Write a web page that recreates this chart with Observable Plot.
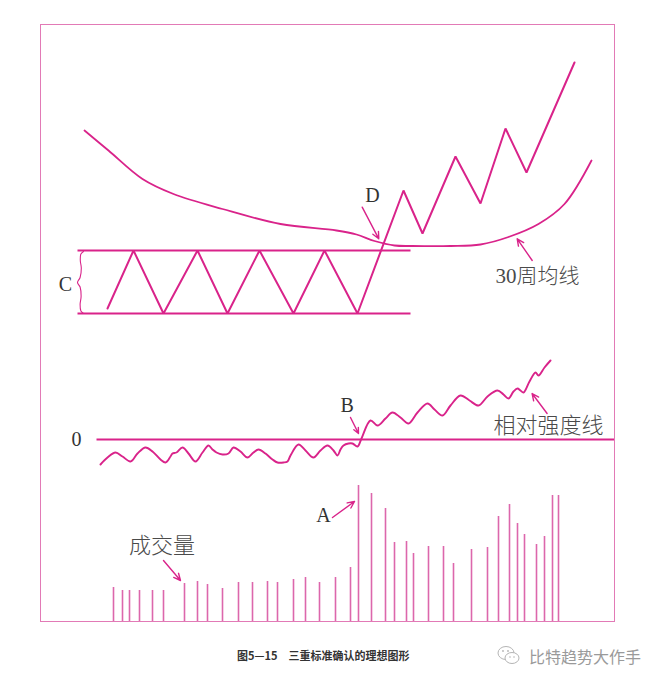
<!DOCTYPE html>
<html>
<head>
<meta charset="utf-8">
<script src="https://cdn.jsdelivr.net/npm/d3@7"></script>
<script src="https://cdn.jsdelivr.net/npm/@observablehq/plot@0.6"></script>
<style>
  html, body { margin: 0; padding: 0; background: #fff; }
  #root { position: relative; width: 661px; height: 683px; background: #fff; overflow: hidden; }
  .panel { position: absolute; left: 0; }
  #frame { position: absolute; left: 40px; top: 24px; width: 575px; height: 598px; box-sizing: border-box; border: 1.5px solid #e27ab6; pointer-events: none; }
  #caption { position: absolute; left: 237px; top: 647px; font: bold 11px "Noto Sans CJK SC", sans-serif; color: #333; white-space: pre; }
  #wm { position: absolute; left: 497px; top: 644px; display: flex; align-items: center; }
  #wm span { font: 16px "Noto Sans CJK SC", sans-serif; color: #9a9a9a; margin-left: 8px; white-space: nowrap; }
</style>
</head>
<body>
<div id="root">
  <div id="p1" class="panel" style="top:0px"></div>
  <div id="p2" class="panel" style="top:340px"></div>
  <div id="p3" class="panel" style="top:480px"></div>
  <div id="frame"></div>
  <div id="caption">图5—15　三重标准确认的理想图形</div>
  <div id="wm">
    <svg width="24" height="22" viewBox="0 0 24 22">
      <ellipse cx="9" cy="8" rx="8" ry="6.5" fill="none" stroke="#b5b5b5" stroke-width="1"/>
      <ellipse cx="15" cy="13" rx="7" ry="5.5" fill="#fff" stroke="#b5b5b5" stroke-width="1"/>
      <circle cx="6" cy="6" r="0.9" fill="#b5b5b5"/><circle cx="11" cy="6" r="0.9" fill="#b5b5b5"/>
      <circle cx="13" cy="12" r="0.8" fill="#b5b5b5"/><circle cx="17" cy="12" r="0.8" fill="#b5b5b5"/>
    </svg>
    <span>比特趋势大作手</span>
  </div>
</div>
<script>
// ---------------- data (time in trading days, values in arbitrary units) ----------------
// Price panel
const rangeStart = 18.5, rangeEnd = 185;
const rangeTop = 18, rangeBottom = 5.4;
const priceX = [33.5, 46.5, 61.5, 78.5, 93.5, 109.5, 126.5, 142, 158.5, 181.5, 191, 207.5, 220, 232.5, 243, 267];
const priceY = [6.4, 18, 5.4, 18, 5.4, 18, 5.4, 18, 5.4, 30, 21.4, 36.8, 27.4, 42.4, 33.6, 55.6];
const maX = [22, 34, 51, 66.5, 91, 120, 148, 158, 167, 177, 186, 205, 220, 234, 249, 262, 275.5];
const maY = [42, 38, 32.3, 29.3, 26.3, 23.3, 22, 21.2, 19.9, 19, 18.9, 18.9, 19.2, 20.7, 23.3, 27.3, 36];

// Relative strength panel
const rsX = [30, 33.5, 37.5, 41, 45, 48.5, 52.5, 56, 60, 62.5, 65, 66, 68, 71, 74, 77.5, 81, 84, 86, 88, 91, 94,
  96.5, 100, 103.5, 106.5, 109, 112.5, 116, 118.5, 121.5, 123.5, 125, 129, 132.5, 136.5, 140, 143.5, 146.5, 148.5,
  150, 151.5, 154, 156, 158.5, 160.5, 165, 168.5, 172.5, 176, 180, 184, 188.5, 193.5, 197, 201, 205, 210, 214.5,
  219, 223.5, 228.5, 231.5, 234, 236.5, 238.5, 240, 241.5, 244.5, 247.5, 249, 252, 255];
const rsY = [-6.25, -4.5, -3.25, -4.25, -5.5, -3.5, -2, -3, -5, -5.75, -4.25, -3.5, -3.25, -2, -3.5, -5.5, -3.25, -1.5, -2.5, -3.25, -3.75, -3.5,
  -2, -3, -4.5, -3.25, -2.5, -3.5, -5, -5.75, -5.75, -5.5, -4, -1.25, -2.75, -4.5, -2.75, -1.5, -2.75, -4,
  -2.5, -1.5, -1, -1, -1.75, 0.25, 4.75, 3.5, 5.25, 6.75, 5.5, 4, 6.75, 9, 7.5, 6, 8.5, 11, 9.75,
  8.5, 10.75, 12.25, 11.25, 10.25, 12, 12.75, 12.25, 11.75, 14.5, 16.75, 16, 18, 19.75];
const rsZeroStart = 28, rsZeroEnd = 287;

// Volume panel
const volX = [36.5, 41, 44.5, 49.5, 56, 61.5, 72, 78.5, 83.5, 91, 99, 106, 113.5, 118.5, 126.5, 132.5, 139.5, 147.5, 155,
  159, 165.5, 172.5, 177, 183, 186.5, 194, 201.5, 206.5, 215.5, 223.5, 229, 234.5, 238.5, 242, 248, 252, 256, 259];
const volY = [17, 15.5, 15.5, 15.5, 15.5, 15.5, 19, 20, 18.5, 16.5, 19.5, 19.5, 20, 19.5, 21, 22, 19.5, 22, 27,
  68, 64, 56.5, 39.5, 40, 34, 37.5, 37.5, 29, 36, 37, 52.5, 58.5, 49, 43.5, 38.5, 42.5, 63, 63];

// Labels
const labelC = "C", labelD = "D", labelB = "B", labelA = "A", labelZero = "0";
const labelMA = "30周均线", labelRS = "相对强度线", labelVol = "成交量";

// ---------------- rendering ----------------
const PINK = "#d9238a";
const BAR = "#dc67ac";
const TEXT = "#333";
const CJKTEXT = "#4a4a4a";
const SERIF = "Liberation Serif, serif";
const CJK = "Liberation Serif, Noto Sans CJK SC, sans-serif";
const X = {domain: [0, 287], axis: null};
const base = {width: 661, marginLeft: 40, marginRight: 47, marginTop: 0, marginBottom: 0,
  style: {background: "transparent", overflow: "visible"}};
const zip = (xs, ys) => xs.map((x, i) => ({x, y: ys[i]}));
const arrowOpts = {x1: "x1", y1: "y1", x2: "x2", y2: "y2", stroke: PINK, strokeWidth: 1.4, headLength: 8, headAngle: 50};

// Price panel
const brace = [{x:21.5,y:17.8},{x:20.2,y:17.3},{x:19.9,y:16},{x:20.4,y:14.5},{x:19.8,y:12.6},{x:18.5,y:11.6},
  {x:19.8,y:10.7},{x:20.3,y:8.8},{x:19.8,y:7.2},{x:20.2,y:5.9},{x:21.5,y:5.4}];
const p1 = Plot.plot({...base, height: 340,
  x: X, y: {domain: [0, 68], axis: null},
  marks: [
    Plot.link([{y: rangeTop}, {y: rangeBottom}], {x1: () => rangeStart, x2: () => rangeEnd, y1: "y", y2: "y", stroke: PINK, strokeWidth: 2}),
    Plot.line(zip(maX, maY), {x: "x", y: "y", curve: "catmull-rom", stroke: PINK, strokeWidth: 1.8}),
    Plot.line(zip(priceX, priceY), {x: "x", y: "y", stroke: PINK, strokeWidth: 2, strokeLinejoin: "miter"}),
    Plot.line(brace, {x: "x", y: "y", curve: "catmull-rom", stroke: PINK, strokeWidth: 1.1}),
    Plot.text([labelC], {x: () => 12.5, y: () => 11.2, text: d => d, fontFamily: SERIF, fontSize: 20, fill: TEXT}),
    Plot.text([labelD], {x: () => 166, y: () => 29, text: d => d, fontFamily: SERIF, fontSize: 20, fill: TEXT}),
    Plot.text([labelMA], {x: () => 248.5, y: () => 12.8, text: d => d, fontFamily: CJK, fontSize: 21, fontWeight: 300, fill: CJKTEXT}),
    Plot.arrow([{x1: 160.85, y1: 26.66, x2: 169.15, y2: 20.34}, {x1: 245.85, y1: 16, x2: 238.35, y2: 20.34}], arrowOpts)
  ]
});
document.getElementById("p1").append(p1);

// RS panel
const p2 = Plot.plot({...base, height: 140,
  x: X, y: {domain: [-10.25, 24.75], axis: null},
  marks: [
    Plot.link([{y: 0}], {x1: () => rsZeroStart, x2: () => rsZeroEnd, y1: "y", y2: "y", stroke: PINK, strokeWidth: 2}),
    Plot.line(zip(rsX, rsY), {x: "x", y: "y", curve: "catmull-rom", stroke: PINK, strokeWidth: 1.9}),
    Plot.text([labelZero], {x: () => 18, y: () => 0, text: d => d, fontFamily: SERIF, fontSize: 20, fill: TEXT}),
    Plot.text([labelB], {x: () => 153.3, y: () => 8.5, text: d => d, fontFamily: SERIF, fontSize: 20, fill: TEXT}),
    Plot.text([labelRS], {x: () => 254, y: () => 3.4, text: d => d, fontFamily: CJK, fontSize: 22, fontWeight: 300, fill: CJKTEXT}),
    Plot.arrow([{x1: 155, y1: 5.5, x2: 159, y2: 1.5}, {x1: 253.3, y1: 6.5, x2: 245.8, y2: 11.5}], arrowOpts)
  ]
});
document.getElementById("p2").append(p2);

// Volume panel
const p3 = Plot.plot({...base, height: 143, marginBottom: 2,
  x: X, y: {domain: [0, 70.5], axis: null},
  marks: [
    Plot.ruleX(zip(volX, volY), {x: "x", y1: () => 0, y2: "y", stroke: BAR, strokeWidth: 1.6}),
    Plot.text([labelVol], {x: () => 60.75, y: () => 38, text: d => d, fontFamily: CJK, fontSize: 22, fontWeight: 300, fill: CJKTEXT}),
    Plot.text([labelA], {x: () => 141.5, y: () => 53, text: d => d, fontFamily: SERIF, fontSize: 20, fill: TEXT}),
    Plot.arrow([{x1: 61.5, y1: 30.5, x2: 70, y2: 20.5}, {x1: 146, y1: 52, x2: 157, y2: 60}], arrowOpts)
  ]
});
document.getElementById("p3").append(p3);
</script>
</body>
</html>
